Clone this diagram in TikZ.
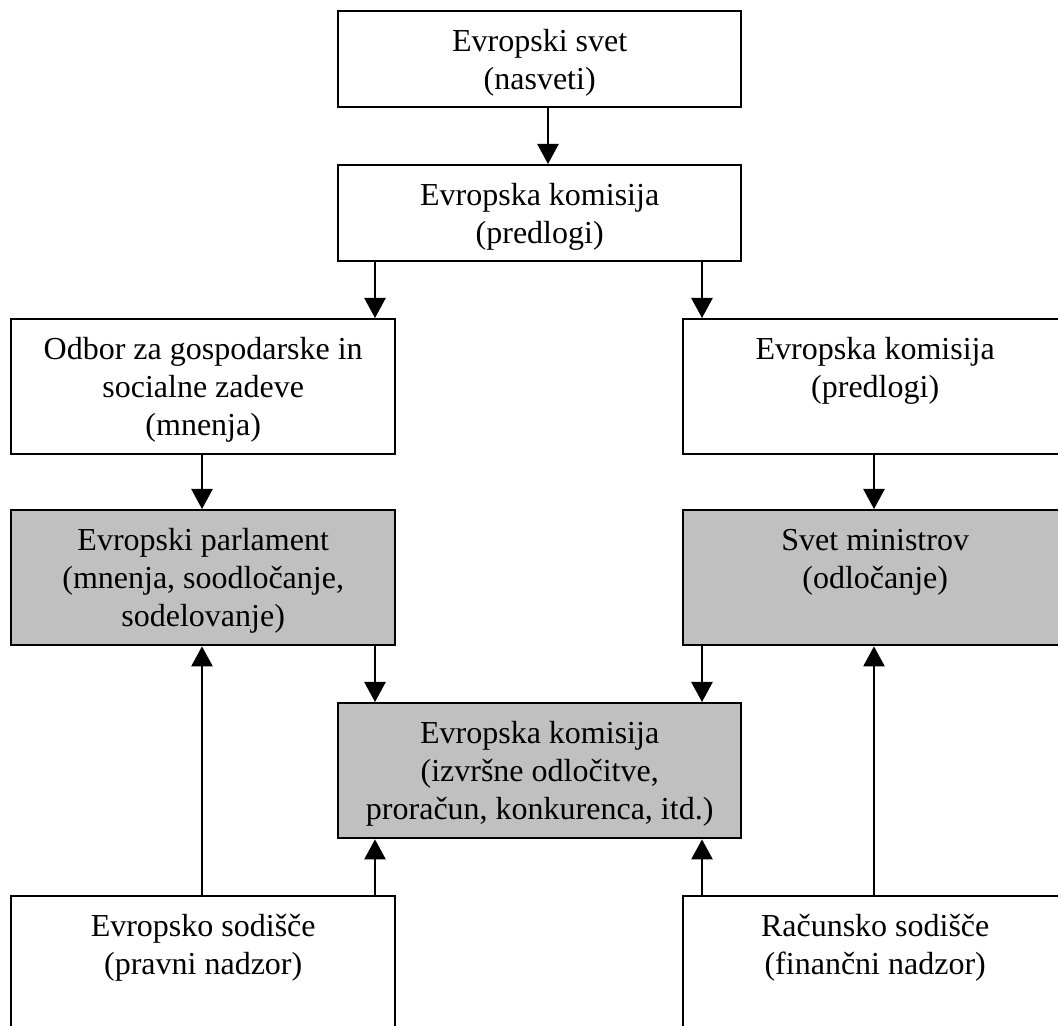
\documentclass[tikz,border=0pt]{standalone}
\usepackage{fontspec}
\setmainfont{Liberation Serif}
\usetikzlibrary{arrows.meta,calc}
\definecolor{boxgray}{RGB}{192,192,192}
\tikzset{
  organ/.style = {draw, line width=0.9pt, inner sep=0pt, anchor=north west,
    font=\fontsize{12}{14.3}\selectfont},
  decides/.style = {organ, fill=boxgray},
  flow/.style = {line width=0.5pt, -{Triangle[length=7.5pt,width=8pt]}},
}
\newcommand{\organtext}[3]{\parbox[c][#2][t]{#1}{\centering\rule{0pt}{15pt}#3}}

\begin{document}
\begin{tikzpicture}[x=0.375pt,y=-0.375pt]
  \pgfmathsetmacro{\wmid}{403*0.375};
  \pgfmathsetmacro{\wside}{384*0.375};
  \pgfmathsetmacro{\hlow}{96*0.375};
  \pgfmathsetmacro{\hhigh}{135*0.375};
  \clip (0,0) rectangle (1058,1026);
  % top row
  \node[organ] (svet) at (337,10) {\organtext{\wmid pt}{\hlow pt}{Evropski svet\\(nasveti)}};
  \node[organ] (komisija) at (337,164) {\organtext{\wmid pt}{\hlow pt}{Evropska komisija\\(predlogi)}};
  % advisers and proposals
  \node[organ] (odbor) at (10,318) {\organtext{\wside pt}{\hhigh pt}{Odbor za gospodarske in\\socialne zadeve\\(mnenja)}};
  \node[organ] (predlogi) at (682,318) {\organtext{\wside pt}{\hhigh pt}{Evropska komisija\\(predlogi)}};
  % deciding bodies
  \node[decides] (parlament) at (10,509) {\organtext{\wside pt}{\hhigh pt}{Evropski parlament\\(mnenja, soodločanje,\\sodelovanje)}};
  \node[decides] (ministri) at (682,509) {\organtext{\wside pt}{\hhigh pt}{Svet ministrov\\(odločanje)}};
  \node[decides] (izvrsna) at (337,702) {\organtext{\wmid pt}{\hhigh pt}{Evropska komisija\\(izvršne odločitve,\\proračun, konkurenca, itd.)}};
  % control
  \node[organ] (sodisce) at (10,895) {\organtext{\wside pt}{\hhigh pt}{Evropsko sodišče\\(pravni nadzor)}};
  \node[organ] (racunsko) at (682,895) {\organtext{\wside pt}{\hhigh pt}{Računsko sodišče\\(finančni nadzor)}};
  % arrows down
  \foreach \from/\to/\x in {svet/komisija/548, komisija/odbor/375, komisija/predlogi/702,
      odbor/parlament/202, predlogi/ministri/874, parlament/izvrsna/375, ministri/izvrsna/702} {%
    \draw[flow] (\from.south -| \x,0) -- (\to.north -| \x,0);
  }
  % arrows up
  \foreach \from/\to/\x in {sodisce/parlament/202, sodisce/izvrsna/375,
      racunsko/izvrsna/702, racunsko/ministri/874} {%
    \draw[flow] (\from.north -| \x,0) -- (\to.south -| \x,0);
  }
\end{tikzpicture}
\end{document}
